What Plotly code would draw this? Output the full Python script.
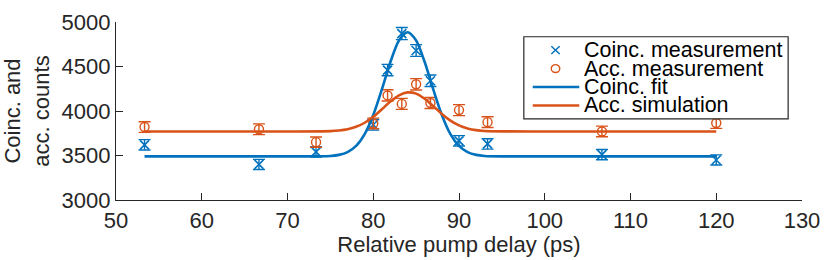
import plotly.graph_objects as go

# ---------------- data ----------------
delay = [53.33, 66.67, 73.33, 80.0, 81.67, 83.33, 85.0, 86.67, 90.0, 93.33, 106.67, 120.0]
coinc = [3620, 3400, 3540, 3845, 4460, 4870, 4680, 4340, 3665, 3630, 3510, 3450]
coinc_err = [58, 57, 58, 60, 64, 68, 66, 64, 58, 58, 57, 57]
acc = [3820, 3795, 3650, 3860, 4175, 4080, 4300, 4090, 4010, 3875, 3770, 3865]
acc_err = [60, 60, 58, 60, 63, 62, 64, 62, 62, 60, 60, 60]

fit_x = [53.33, 70, 75, 76, 77, 78, 79, 80, 81, 82, 83, 84, 85, 86, 87, 88, 89, 90,
         91, 92, 93, 95, 100, 120]
coinc_fit = [3490, 3490, 3495, 3507, 3538, 3608, 3741, 3956, 4242, 4550, 4793, 4885,
             4793, 4550, 4242, 3956, 3741, 3608, 3538, 3507, 3495, 3490, 3490, 3490]
acc_sim = [3770, 3770, 3774, 3781, 3795, 3822, 3868, 3935, 4019, 4106, 4176, 4209,
           4195, 4137, 4055, 3967, 3892, 3838, 3804, 3785, 3776, 3771, 3770, 3770]

legend_labels = ["Coinc. measurement", "Acc. measurement", "Coinc. fit", "Acc. simulation"]

BLUE = "#0072BD"
ORANGE = "#D95319"
DARK = "#262626"
FONT = "Liberation Sans, Arial, Helvetica, sans-serif"
FS = 22

W, H = 830, 260
ML, MR, MT, MB = 116, 21, 10, 57
PW, PH = W - ML - MR, H - MT - MB


def px(xp):
    return (xp - ML) / PW


def py(yp):
    return (H - MB - yp) / PH


fig = go.Figure()

fig.add_trace(go.Scatter(
    x=delay, y=coinc, mode="markers",
    marker=dict(symbol="x-thin-open", size=9, color=BLUE, line=dict(color=BLUE, width=1.6)),
    error_y=dict(type="data", array=coinc_err, visible=True, color=BLUE, thickness=1.4, width=6),
    showlegend=False))
fig.add_trace(go.Scatter(
    x=delay, y=acc, mode="markers",
    marker=dict(symbol="circle-open", size=9, color=ORANGE, line=dict(color=ORANGE, width=1.4)),
    error_y=dict(type="data", array=acc_err, visible=True, color=ORANGE, thickness=1.4, width=6),
    showlegend=False))
fig.add_trace(go.Scatter(
    x=fit_x, y=coinc_fit, mode="lines",
    line=dict(color=BLUE, width=2.6, shape="spline", smoothing=0.8), showlegend=False))
fig.add_trace(go.Scatter(
    x=fit_x, y=acc_sim, mode="lines",
    line=dict(color=ORANGE, width=2.6, shape="spline", smoothing=0.8), showlegend=False))

# ---------------- custom legend ----------------
shapes = []
annotations = []
box_l, box_r, box_t, box_b = 528, 795, 26, 115
shapes.append(dict(type="rect", xref="paper", yref="paper",
                   x0=px(box_l), x1=px(box_r), y0=py(box_b), y1=py(box_t),
                   line=dict(color=DARK, width=1.2), fillcolor="white", layer="above"))
rows = [40.5, 60.5, 80.5, 100.5]
mx = 560
text_x = 587
r = 4.2
shapes.append(dict(type="line", xref="paper", yref="paper", x0=px(mx - r), x1=px(mx + r),
                   y0=py(rows[0] - r), y1=py(rows[0] + r), line=dict(color=BLUE, width=1.5), layer="above"))
shapes.append(dict(type="line", xref="paper", yref="paper", x0=px(mx - r), x1=px(mx + r),
                   y0=py(rows[0] + r), y1=py(rows[0] - r), line=dict(color=BLUE, width=1.5), layer="above"))
shapes.append(dict(type="circle", xref="paper", yref="paper", x0=px(mx - 4.3), x1=px(mx + 4.3),
                   y0=py(rows[1] + 4.3), y1=py(rows[1] - 4.3), line=dict(color=ORANGE, width=1.4), layer="above"))
for row, col in ((rows[2], BLUE), (rows[3], ORANGE)):
    shapes.append(dict(type="line", xref="paper", yref="paper", x0=px(537), x1=px(584),
                       y0=py(row), y1=py(row), line=dict(color=col, width=2.6), layer="above"))
for row, lab in zip(rows, legend_labels):
    annotations.append(dict(x=px(text_x), y=py(row), xref="paper", yref="paper",
                            text=lab, showarrow=False, xanchor="left", yanchor="middle",
                            font=dict(family=FONT, size=FS - 0.5, color="black")))

fig.update_layout(
    width=W, height=H,
    margin=dict(l=ML, r=MR, t=MT, b=MB),
    paper_bgcolor="white", plot_bgcolor="white",
    font=dict(family=FONT, size=FS, color=DARK),
    shapes=shapes, annotations=annotations,
    showlegend=False,
)
fig.update_xaxes(
    range=[50, 130], dtick=10, tick0=50, showgrid=False, zeroline=False,
    showline=True, linecolor=DARK, linewidth=1.2, ticks="inside", ticklen=7,
    tickcolor=DARK, tickwidth=1.2, tickfont=dict(family=FONT, size=FS, color=DARK),
    ticklabeloverflow="allow",
    title=dict(text="Relative pump delay (ps)", font=dict(family=FONT, size=FS, color=DARK), standoff=2),
)
fig.update_yaxes(
    range=[3000, 5000], dtick=500, tick0=3000, showgrid=False, zeroline=False,
    showline=True, linecolor=DARK, linewidth=1.2, ticks="inside", ticklen=7,
    tickcolor=DARK, tickwidth=1.2, tickfont=dict(family=FONT, size=FS, color=DARK),
    ticklabeloverflow="allow",
    title=dict(text="Coinc. and<br>acc. counts", font=dict(family=FONT, size=FS, color=DARK), standoff=6),
)

fig.write_html("out.html", config={"displayModeBar": False},
               post_script="document.body.style.margin='0';document.body.style.overflow='hidden';")
